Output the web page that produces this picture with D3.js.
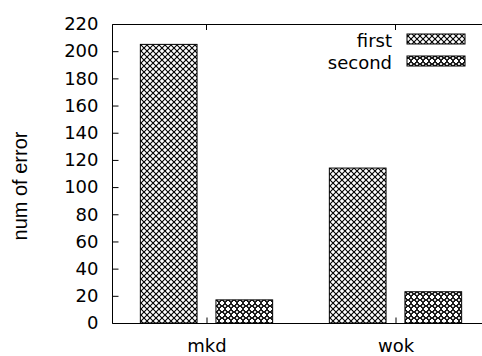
<!DOCTYPE html>
<html>
<head>
<meta charset="utf-8">
<script src="https://cdn.jsdelivr.net/npm/d3@7"></script>
<style>
  body { margin: 0; background: #fff; }
  svg { display: block; font-family: "DejaVu Sans", sans-serif; }
</style>
</head>
<body>
<script>
var categories = ["mkd", "wok"];
var seriesNames = ["first", "second"];
var firstValues = [205, 114];
var secondValues = [17, 23];
var yTicks = [0, 20, 40, 60, 80, 100, 120, 140, 160, 180, 200, 220];

var W = 482, H = 356;
var plotLeft = 112, plotTop = 24, plotBottom = 323;

var svg = d3.select("body").append("svg").attr("width", W).attr("height", H);

// patterns like gnuplot fill patterns
var defs = svg.append("defs");
var p1 = defs.append("pattern")
  .attr("id", "pat1").attr("patternUnits", "userSpaceOnUse")
  .attr("width", 6).attr("height", 6);
p1.append("rect").attr("width", 6).attr("height", 6).attr("fill", "#fff");
p1.append("path").attr("d", "M0,0L6,6M6,0L0,6")
  .attr("stroke", "#000").attr("stroke-width", 1.1);

var p2 = defs.append("pattern")
  .attr("id", "pat2").attr("patternUnits", "userSpaceOnUse")
  .attr("width", 6).attr("height", 6);
p2.append("rect").attr("width", 6).attr("height", 6).attr("fill", "#fff");
p2.append("path").attr("d", "M0,0L6,6M6,0L0,6")
  .attr("stroke", "#000").attr("stroke-width", 0.9);
p2.append("circle").attr("cx", 3).attr("cy", 0).attr("r", 1.6)
  .attr("fill", "none").attr("stroke", "#000").attr("stroke-width", 0.9);
p2.append("circle").attr("cx", 3).attr("cy", 6).attr("r", 1.6)
  .attr("fill", "none").attr("stroke", "#000").attr("stroke-width", 0.9);

var x = d3.scaleLinear().domain([-0.5, 1.5]).range([plotLeft, plotLeft + 378]);
var y = d3.scaleLinear().domain([0, 220]).range([plotBottom, plotTop]);

var barW = 0.3, off = 0.2;

// bars
var series = [firstValues, secondValues];
series.forEach(function (vals, s) {
  svg.append("g").selectAll("rect")
    .data(vals)
    .enter()
    .append("rect")
    .attr("x", function (d, i) { return x(i + (s == 0 ? -off : off) - barW / 2); })
    .attr("width", x(barW) - x(0))
    .attr("y", function (d) { return y(d); })
    .attr("height", function (d) { return y(0) - y(d); })
    .attr("fill", "url(#pat" + (s + 1) + ")")
    .attr("stroke", "#000")
    .attr("stroke-width", 1);
});

// frame (left, top, bottom)
svg.append("path")
  .attr("d", "M" + W + "," + (plotTop + 0.5) + "H" + (plotLeft + 0.5) + "V" + (plotBottom + 0.5) + "H" + W)
  .attr("fill", "none").attr("stroke", "#000").attr("stroke-width", 1);

// y axis
var yAxis = d3.axisLeft(y).tickValues(yTicks).tickSize(-6).tickPadding(14);
svg.append("g")
  .attr("transform", "translate(" + (plotLeft + 0.5) + ",0)")
  .call(yAxis)
  .call(function (g) {
    g.select(".domain").remove();
    g.selectAll("line").attr("stroke", "#000");
    g.selectAll("text").attr("font-size", 18).attr("fill", "#000")
      .attr("font-family", "DejaVu Sans");
  });

// x axis
var xAxis = d3.axisBottom(x).tickValues([0, 1])
  .tickFormat(function (d) { return categories[d]; })
  .tickSize(-6).tickPadding(16);
svg.append("g")
  .attr("transform", "translate(0," + (plotBottom + 0.5) + ")")
  .call(xAxis)
  .call(function (g) {
    g.select(".domain").remove();
    g.selectAll("line").attr("stroke", "#000");
    g.selectAll("text").attr("font-size", 18).attr("fill", "#000")
      .attr("font-family", "DejaVu Sans");
  });

// top mirror ticks
svg.append("g").selectAll("line")
  .data([0, 1])
  .enter()
  .append("line")
  .attr("x1", function (d) { return x(d); })
  .attr("x2", function (d) { return x(d); })
  .attr("y1", plotTop).attr("y2", plotTop + 6)
  .attr("stroke", "#000");

// y label
svg.append("text")
  .attr("transform", "translate(27,186) rotate(-90)")
  .attr("text-anchor", "middle")
  .attr("font-family", "Liberation Sans")
  .attr("font-size", 20)
  .text("num of error");

// legend
var legend = svg.append("g").selectAll("g")
  .data(seriesNames)
  .enter()
  .append("g")
  .attr("transform", function (d, i) { return "translate(0," + (i * 22) + ")"; });
legend.append("text")
  .attr("x", 392).attr("y", 47)
  .attr("text-anchor", "end")
  .attr("font-size", 18)
  .text(function (d) { return d; });
legend.append("rect")
  .attr("x", 407).attr("y", 34)
  .attr("width", 58).attr("height", 10)
  .attr("fill", function (d, i) { return "url(#pat" + (i + 1) + ")"; })
  .attr("stroke", "#000");
</script>
</body>
</html>
